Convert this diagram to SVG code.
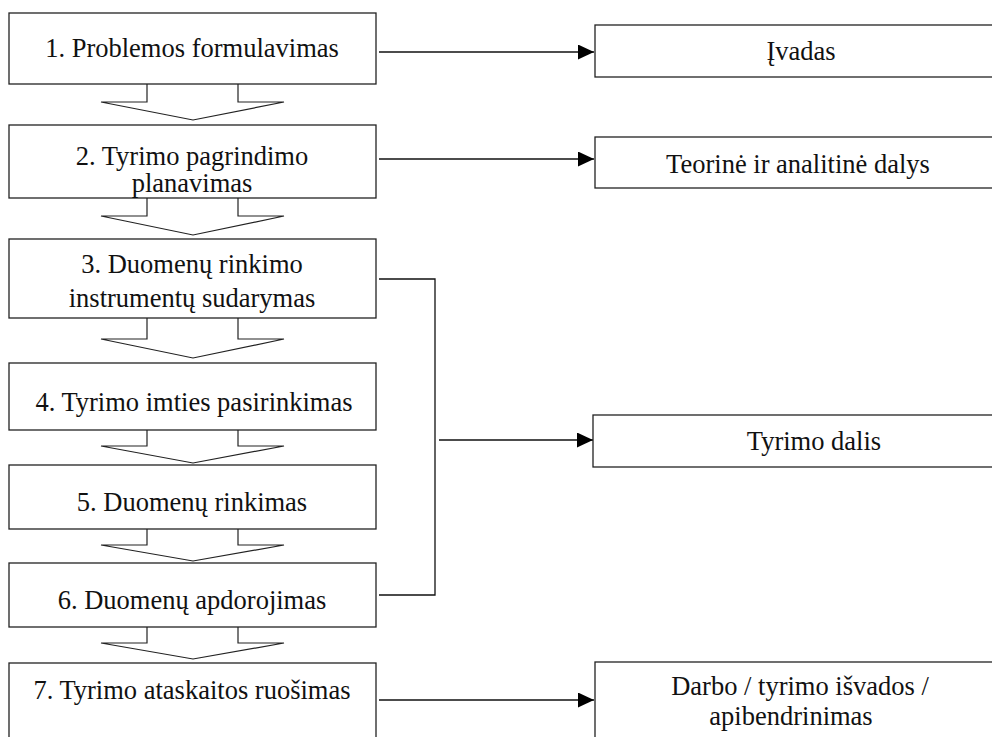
<svg xmlns="http://www.w3.org/2000/svg" width="992" height="737" viewBox="0 0 992 737">
<style>
.box{fill:#fff;stroke:#222;stroke-width:1.3}
.blk{fill:#fff;stroke:#222;stroke-width:1.2;stroke-linejoin:miter}
.ln{fill:none;stroke:#111;stroke-width:1.3}
.t{font-family:'Liberation Serif','DejaVu Serif','Noto Serif',serif;font-size:26.5px;fill:#111;text-anchor:middle}
</style>
<defs>
<marker id="ah" markerWidth="16" markerHeight="15" refX="16" refY="7.5" orient="auto" markerUnits="userSpaceOnUse">
<path d="M0,0 L16,7.5 L0,15 Z" fill="#000"/>
</marker>
</defs>
<rect width="992" height="737" fill="#fff"/>
<g id="connectors">
<polyline class="blk" points="147,84 147,102 101,102 193,120 284,102 238,102 238,84"/>
<polyline class="blk" points="147,198 147,216 101,216 193,235 284,216 238,216 238,198"/>
<polyline class="blk" points="147,318 147,339 101,339 193,358 284,339 238,339 238,318"/>
<polyline class="blk" points="147,430 147,446 101,446 193,463 284,446 238,446 238,430"/>
<polyline class="blk" points="147,529 147,545 101,545 193,561 284,545 238,545 238,529"/>
<polyline class="blk" points="147,627 147,643 101,643 193,659 284,643 238,643 238,627"/>
<line class="ln" x1="379" y1="52" x2="594" y2="52" marker-end="url(#ah)"/>
<line class="ln" x1="379" y1="159" x2="594" y2="159" marker-end="url(#ah)"/>
<polyline class="ln" points="379,279 435,279 435,595 379,595"/>
<line class="ln" x1="439" y1="440" x2="593" y2="440" marker-end="url(#ah)"/>
<line class="ln" x1="379" y1="700" x2="594" y2="700" marker-end="url(#ah)"/>
</g>
<g class="t">
<g id="n1"><rect class="box" x="9" y="13" width="367" height="71"/><text x="192" y="57">1. Problemos formulavimas</text></g>
<g id="n2"><rect class="box" x="9" y="125" width="367" height="73"/><text x="192" y="165">2. Tyrimo pagrindimo</text><text x="192" y="192">planavimas</text></g>
<g id="n3"><rect class="box" x="9" y="239" width="367" height="79"/><text x="192" y="273">3. Duomenų rinkimo</text><text x="192" y="307">instrumentų sudarymas</text></g>
<g id="n4"><rect class="box" x="9" y="363" width="367" height="67"/><text x="194" y="411">4. Tyrimo imties pasirinkimas</text></g>
<g id="n5"><rect class="box" x="9" y="465" width="367" height="64"/><text x="192" y="511">5. Duomenų rinkimas</text></g>
<g id="n6"><rect class="box" x="9" y="563" width="367" height="64"/><text x="192" y="609">6. Duomenų apdorojimas</text></g>
<g id="n7"><rect class="box" x="9" y="663" width="367" height="90"/><text x="192" y="699">7. Tyrimo ataskaitos ruošimas</text></g>
<g id="r1"><rect class="box" x="595" y="25" width="420" height="52"/><text x="801" y="60">Įvadas</text></g>
<g id="r2"><rect class="box" x="595" y="137" width="420" height="51"/><text x="798" y="173">Teorinė ir analitinė dalys</text></g>
<g id="r3"><rect class="box" x="593" y="415" width="420" height="52"/><text x="814" y="450">Tyrimo dalis</text></g>
<g id="r4"><rect class="box" x="595" y="662" width="420" height="90"/><text x="800" y="695">Darbo / tyrimo išvados /</text><text x="791" y="725">apibendrinimas</text></g>
</g>
</svg>
